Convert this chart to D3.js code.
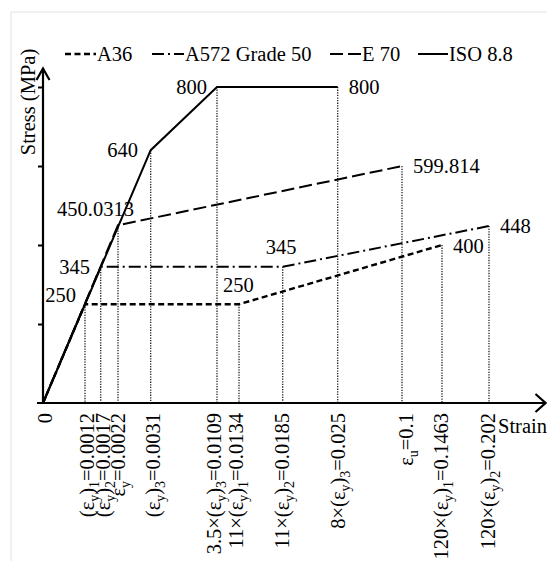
<!DOCTYPE html>
<html><head><meta charset="utf-8">
<script src="https://cdn.jsdelivr.net/npm/d3@7"></script>
<style>
body{margin:0;background:#fff}
text{font-family:"Liberation Serif","Times New Roman",serif;fill:#000}
</style>
</head><body>
<svg id="c" width="547" height="561"></svg>
<script>
// ---------------- DATA ----------------
const seriesNames = ["A36", "A572 Grade 50", "E 70", "ISO 8.8"];
const a36Strain  = [0, 0.0012, 0.0134, 0.1463];
const a36Stress  = [0, 250, 250, 400];
const a572Strain = [0, 0.0017, 0.0185, 0.202];
const a572Stress = [0, 345, 345, 448];
const e70Strain  = [0, 0.0022, 0.1];
const e70Stress  = [0, 450.0313, 599.814];
const isoStrain  = [0, 0.0031, 0.0109, 0.025];
const isoStress  = [0, 640, 800, 800];

const strainTicks = [0, 0.0012, 0.0017, 0.0022, 0.0031, 0.0109, 0.0134, 0.0185, 0.025, 0.1, 0.1463, 0.202];
const strainTickLabels = ["0", "(ε_y)_1=0.0012", "(ε_y)_2=0.0017", "ε_y=0.0022", "(ε_y)_3=0.0031",
  "3.5×(ε_y)_3=0.0109", "11×(ε_y)_1=0.0134", "11×(ε_y)_2=0.0185", "8×(ε_y)_3=0.025",
  "ε_u=0.1", "120×(ε_y)_1=0.1463", "120×(ε_y)_2=0.202"];
const stressTicks = [200, 400, 600, 800];

const guideStrain = [0.0012, 0.0017, 0.0022, 0.0031, 0.0109, 0.0134, 0.0185, 0.025, 0.1, 0.1463, 0.202];
const guideStress = [250, 345, 450.0313, 640, 800, 250, 345, 800, 599.814, 400, 448];

const pointLabels      = ["800", "800", "640", "450.0313", "345", "250", "250", "345", "599.814", "448", "400"];
const pointLabelStrain = [0.0109, 0.025, 0.0031, 0.0022, 0.0017, 0.0012, 0.0134, 0.0185, 0.1, 0.202, 0.1463];
const pointLabelStress = [800, 800, 640, 450.0313, 345, 250, 250, 345, 599.814, 448, 400];

const xTitle = "Strain";
const yTitle = "Stress (MPa)";

// ---------------- LAYOUT ----------------
const svg = d3.select("#c");
const FS = 20.5;
// schematic (non-proportional) strain axis: piecewise linear scale
const x = d3.scaleLinear().domain(strainTicks)
  .range([43, 85, 100.7, 118, 150.7, 217, 239, 282.7, 337.7, 402, 442, 489]);
const y = d3.scaleLinear().domain([0, 800]).range([403, 87]);

const styles = [
  {dash: "6,3.5", w: 2.4},
  {dash: "12,4,2,4", w: 2},
  {dash: "13,5", w: 2},
  {dash: null, w: 2}
];
const series = [
  {s: a36Strain, v: a36Stress},
  {s: a572Strain, v: a572Stress},
  {s: e70Strain, v: e70Stress},
  {s: isoStrain, v: isoStress}
];

// frame
svg.append("line").attr("x1", 11).attr("x2", 11).attr("y1", 12).attr("y2", 561)
  .attr("stroke", "#e2e2e2").attr("stroke-width", 1);
svg.append("line").attr("x1", 11).attr("x2", 547).attr("y1", 12).attr("y2", 12)
  .attr("stroke", "#e2e2e2").attr("stroke-width", 1);

// dotted guides
svg.append("g").selectAll("line").data(guideStrain).join("line")
  .attr("x1", d => x(d)).attr("x2", d => x(d))
  .attr("y1", (d, i) => y(guideStress[i])).attr("y2", y(0))
  .attr("stroke", "#222").attr("stroke-width", 1.3).attr("stroke-dasharray", "1.3,1.3");

// series
const line = d3.line().x(d => x(d[0])).y(d => y(d[1]));
series.forEach((sr, i) => {
  const pts = sr.s.map((s, j) => [s, sr.v[j]]);
  svg.append("path").attr("d", line(pts)).attr("fill", "none")
    .attr("stroke", "#000").attr("stroke-width", styles[i].w)
    .attr("stroke-dasharray", styles[i].dash);
});

// axes
const yAxis = d3.axisLeft(y).tickValues(stressTicks).tickFormat("").tickSize(5).tickSizeOuter(0);
const ya = svg.append("g").attr("transform", "translate(43,0)").call(yAxis);
ya.select(".domain").remove();
ya.selectAll(".tick line").attr("stroke", "#000").attr("stroke-width", 2);

svg.append("line").attr("x1", 43).attr("x2", 43).attr("y1", y(0)).attr("y2", 69)
  .attr("stroke", "#000").attr("stroke-width", 2.2);
svg.append("path").attr("d", "M36.5,80 L43,68.5 L49.5,80").attr("fill", "none")
  .attr("stroke", "#000").attr("stroke-width", 2.2);
svg.append("line").attr("x1", 37).attr("x2", 545).attr("y1", y(0)).attr("y2", y(0))
  .attr("stroke", "#000").attr("stroke-width", 2.2);
svg.append("path").attr("d", "M535.5,394 L545.5,403 L535.5,412").attr("fill", "none")
  .attr("stroke", "#000").attr("stroke-width", 2.2);

// rich text helper: "_c" -> subscript c
function rich(textSel, str, size) {
  const segs = [];
  for (let k = 0; k < str.length; k++) {
    if (str[k] === "_") { segs.push({t: str[k + 1], sub: true}); k++; }
    else {
      if (segs.length && !segs[segs.length - 1].sub) segs[segs.length - 1].t += str[k];
      else segs.push({t: str[k], sub: false});
    }
  }
  let low = false;
  segs.forEach(sg => {
    const ts = textSel.append("tspan").text(sg.t);
    if (sg.sub) { ts.attr("font-size", size * 0.68); if (!low) { ts.attr("dy", 5); low = true; } }
    else { if (low) { ts.attr("dy", -5); low = false; } }
  });
}

// strain tick labels (rotated)
const labelNudge = [9, 9, 9.3, 7, 9.3, 4, 4, 6.3, 7, 11, 6, 6];
strainTicks.forEach((s, i) => {
  const t = svg.append("text")
    .attr("transform", `translate(${x(s) + labelNudge[i]},413) rotate(-90)`)
    .attr("text-anchor", "end").attr("font-size", FS);
  rich(t, strainTickLabels[i], FS);
});

// point labels
const plOff = [[-10, 7, "end"], [11, 7, "start"], [-12.7, 7, "end"], [-61, -9, "start"],
  [-10.7, 7, "end"], [-9, -2, "end"], [-16, -12, "start"], [-17, -13, "start"],
  [11, 7, "start"], [11, 7, "start"], [11, 8, "start"]];
pointLabels.forEach((lb, i) => {
  svg.append("text").attr("x", x(pointLabelStrain[i]) + plOff[i][0])
    .attr("y", y(pointLabelStress[i]) + plOff[i][1])
    .attr("text-anchor", plOff[i][2]).attr("font-size", FS).text(lb);
});

// axis titles
svg.append("text").attr("transform", "translate(35,102) rotate(-90)")
  .attr("text-anchor", "middle").attr("font-size", FS).text(yTitle);
svg.append("text").attr("x", 498).attr("y", 433).attr("font-size", FS).text(xTitle);

// legend
const legX = [[65, 97], [152, 185], [330, 362], [418, 449]];
seriesNames.forEach((n, i) => {
  svg.append("line").attr("x1", legX[i][0]).attr("x2", legX[i][1] - 1).attr("y1", 54).attr("y2", 54)
    .attr("stroke", "#000").attr("stroke-width", styles[i].w).attr("stroke-dasharray", styles[i].dash);
  svg.append("text").attr("x", legX[i][1]).attr("y", 61).attr("font-size", FS).text(n);
});
</script>
</body></html>
